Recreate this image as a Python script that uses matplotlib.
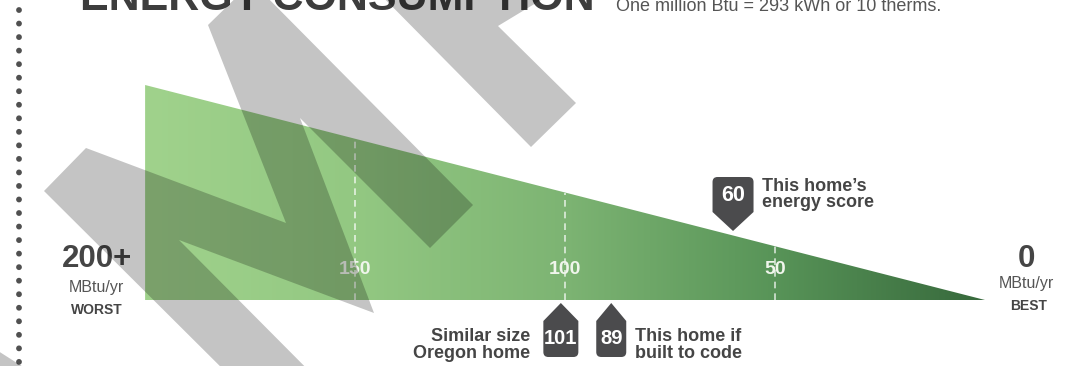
import numpy as np

import matplotlib
matplotlib.use("Agg")

import matplotlib.pyplot as plt
import matplotlib.transforms as mtransforms
from matplotlib.colors import LinearSegmentedColormap
from matplotlib.patches import Polygon, PathPatch
from matplotlib.path import Path

plt.rcParams["font.family"] = ["Liberation Sans", "DejaVu Sans"]

# --- data -----------------------------------------------------------------
scale_max = 200                      # MBtu/yr, worst end of the scale
tick_values = [150, 100, 50]
tick_labels = ["150", "100", "50"]

home_score = 60
home_label = "This home\u2019s\nenergy score"

compare_values = [101, 89]
compare_labels = ["Similar size\nOregon home", "This home if\nbuilt to code"]

title = "ENERGY CONSUMPTION"
subtitle = "One million Btu = 293 kWh or 10 therms."

# gradient, best (0) -> worst (200)
grad_colors = ["#37693c", "#589458", "#7db473", "#93c882", "#a0d28c"]

# --- layout ---------------------------------------------------------------
W, H = 1076, 366
DARK = "#454545"
PIN = "#4b4b4d"

fig = plt.figure(figsize=(W / 100, H / 100), dpi=100)

# pixel axes for the free text / decorations
pix = fig.add_axes([0, 0, 1, 1], zorder=0)
pix.set_xlim(0, W)
pix.set_ylim(H, 0)
pix.axis("off")

# main scale axes: 143..985 px wide, 85..300 px high
ax = fig.add_axes([143 / W, (H - 300) / H, 842 / W, 215 / H], zorder=1)
ax.patch.set_alpha(0)

cmap = LinearSegmentedColormap.from_list("energy", grad_colors)
tri = Polygon([(scale_max, 0), (scale_max, scale_max), (0, 0)], closed=True,
              fc="none", ec="none")
ax.add_patch(tri)
grad = np.linspace(scale_max, 0, 512)[None, :]
im = ax.imshow(grad, extent=(scale_max, 0, 0, scale_max), cmap=cmap,
               vmin=0, vmax=scale_max, aspect="auto", interpolation="bicubic")
im.set_clip_path(tri)

ax.set_xlim(scale_max + 0.5, 0)
ax.set_ylim(0, scale_max)
ax.axis("off")

# dashed guides up to the slanted top edge (top edge is y = x)
ax.vlines(tick_values, 0, tick_values, colors="white", linestyles=(0, (4, 3)),
          lw=1.2, alpha=0.75)
for v, lab in zip(tick_values, tick_labels):
    ax.text(v, 28, lab, ha="center", va="center", fontsize=14,
            fontweight="bold", color="#f0f5ec")


def pin_patch(xv, yv, w, s, h, r, up, dy):
    """Map-pin shape with its tip at (xv, yv) + dy pixels."""
    verts = [(0, 0), (w, -s), (w, -h + r), (w, -h), (w - r, -h),
             (-w + r, -h), (-w, -h), (-w, -h + r), (-w, -s), (0, 0)]
    codes = [Path.MOVETO, Path.LINETO, Path.LINETO, Path.CURVE3, Path.CURVE3,
             Path.LINETO, Path.CURVE3, Path.CURVE3, Path.LINETO, Path.CLOSEPOLY]
    if not up:
        verts = [(x, -y) for x, y in verts]
    tr = (mtransforms.Affine2D().translate(0, dy).scale(fig.dpi / 100)
          + mtransforms.ScaledTranslation(xv, yv, ax.transData))
    p = PathPatch(Path(verts, codes), fc=PIN, ec="none", transform=tr,
                  clip_on=False)
    ax.add_patch(p)


PT = 0.72  # px -> points at dpi 100

# this home's score, on the top edge
pin_patch(home_score, home_score, 20.5, 19, 54, 5, up=False, dy=4.5)
ax.annotate(str(home_score), (home_score, home_score),
            xytext=(0, 40 * PT), textcoords="offset points",
            ha="center", va="center", fontsize=15.5, fontweight="bold",
            color="white", annotation_clip=False)
ax.annotate(home_label, (home_score, home_score),
            xytext=(29 * PT, 41 * PT), textcoords="offset points",
            ha="left", va="center", fontsize=13, fontweight="bold",
            color=DARK, linespacing=0.95, annotation_clip=False)

# comparison pins below the scale
widths = [17.5, 15]
for i, (v, w) in enumerate(zip(compare_values, widths)):
    pin_patch(v, 0, w, 18, 54, 5, up=True, dy=-3)
    ax.annotate(str(v), (v, 0), xytext=(0, -39 * PT),
                textcoords="offset points", ha="center", va="center",
                fontsize=14.5, fontweight="bold", color="white",
                annotation_clip=False)

ax.annotate(compare_labels[0], (compare_values[0], 0),
            xytext=(-31 * PT, -45 * PT), textcoords="offset points",
            ha="right", va="center", multialignment="right", fontsize=13,
            fontweight="bold", color=DARK, linespacing=0.95,
            annotation_clip=False)
ax.annotate(compare_labels[1], (compare_values[1], 0),
            xytext=(24 * PT, -45 * PT), textcoords="offset points",
            ha="left", va="center", fontsize=13, fontweight="bold",
            color=DARK, linespacing=0.95, annotation_clip=False)

# end labels
pix.text(97, 267, f"{scale_max}+", ha="center", va="baseline", fontsize=22.5,
         fontweight="bold", color=DARK)
pix.text(96, 292, "MBtu/yr", ha="center", va="baseline", fontsize=11.5,
         color="#555555")
pix.text(97, 314, "WORST", ha="center", va="baseline", fontsize=10,
         fontweight="bold", color=DARK)
pix.text(1026, 267, "0", ha="center", va="baseline", fontsize=22.5,
         fontweight="bold", color=DARK)
pix.text(1026, 288, "MBtu/yr", ha="center", va="baseline", fontsize=11.5,
         color="#555555")
pix.text(1029, 310, "BEST", ha="center", va="baseline", fontsize=10,
         fontweight="bold", color=DARK)

# title (cut off at the top edge of the crop)
pix.text(80, 10, title, ha="left", va="baseline", fontsize=31,
         fontweight="bold", color="#3d3d3d")
pix.text(616, 11, subtitle, ha="left", va="baseline", fontsize=13,
         color="#555555")

# dotted side rule
pix.plot([19, 19], [10, 380], color="#505050", lw=4.2,
         linestyle=(0, (0.01, 2.31)), dash_capstyle="round", clip_on=False)

# grey watermark stamp over everything
wm = fig.add_axes([0, 0, 1, 1], zorder=10)
wm.set_xlim(0, W)
wm.set_ylim(H, 0)
wm.axis("off")
wm.patch.set_alpha(0)
stamp = [
    [(44, 191), (86, 148), (286, 223), (208, 25), (252, -18), (473, 205),
     (430, 248), (300, 118), (374, 313), (179, 240), (344, 406), (260, 406)],
    [(366, -20), (531, 147), (576, 103), (498, 26), (574, -20)],
    [(-5, 349), (28, 370), (-5, 370)],
]
for pts in stamp:
    wm.add_patch(Polygon(pts, closed=True, fc="black", ec="none", alpha=0.23))

fig.savefig("out.png", dpi=100)
